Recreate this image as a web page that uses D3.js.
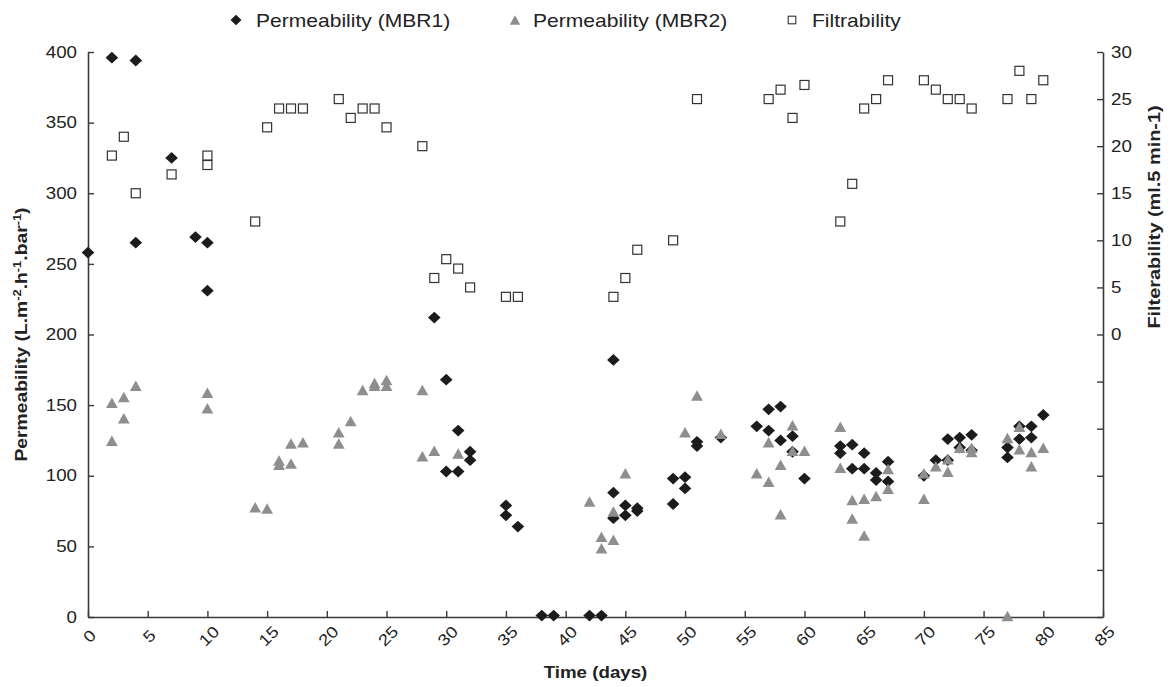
<!DOCTYPE html>
<html>
<head>
<meta charset="utf-8">
<script src="https://cdn.jsdelivr.net/npm/d3@7/dist/d3.min.js"></script>
<style>
  html, body { margin: 0; padding: 0; background: #fff; }
  svg { display: block; font-family: "Liberation Sans", Arial, sans-serif; }
</style>
</head>
<body>
<svg id="chart" width="1170" height="687"></svg>
<script>
// Permeability of MBR1 as [day, L.m-2.h-1.bar-1]
const mbr1 = [
  [0,258],[2,396],[4,394],[4,265],[7,325],[9,269],[10,265],[10,231],
  [29,212],[30,168],[30,103],[31,103],[31,132],[32,117],[32,111],
  [35,79],[35,72],[36,64],[38,1],[39,1],[42,1],[43,1],
  [44,182],[44,88],[44,70],[45,79],[45,72],[46,77],[46,75],
  [49,98],[49,80],[50,99],[50,91],[51,124],[51,121],[53,127],
  [56,135],[57,147],[57,132],[58,149],[58,125],[59,128],[59,117],[60,98],
  [63,121],[63,116],[64,122],[64,105],[65,116],[65,105],[66,102],[66,97],[67,110],[67,96],
  [70,100],[71,111],[72,126],[72,111],[73,127],[73,120],[74,129],[74,118],
  [77,120],[77,113],[78,135],[78,126],[79,135],[79,127],[80,143]
];

// Permeability of MBR2 as [day, L.m-2.h-1.bar-1]
const mbr2 = [
  [2,151],[2,124],[3,155],[3,140],[4,163],[10,158],[10,147],
  [14,77],[15,76],[16,110],[16,107],[17,122],[17,108],[18,123],
  [21,130],[21,122],[22,138],[23,160],[24,165],[24,163],[25,167],[25,163],
  [28,160],[28,113],[29,117],[31,115],
  [42,81],[43,56],[43,48],[44,74],[44,54],[45,101],
  [50,130],[51,156],[53,129],
  [56,101],[57,123],[57,95],[58,107],[58,72],[59,135],[59,117],[60,117],
  [63,134],[63,105],[64,82],[64,69],[65,83],[65,57],[66,85],[67,104],[67,90],
  [70,101],[70,83],[71,106],[72,111],[72,102],[73,119],[74,119],[74,116],
  [77,126],[77,0],[78,134],[78,118],[79,116],[79,106],[80,119]
];

// Filtrability as [day, ml per 5 min]
const filtrability = [
  [2,19],[3,21],[4,15],[7,17],[10,19],[10,18],[14,12],[15,22],[16,24],[17,24],[18,24],
  [21,25],[22,23],[23,24],[24,24],[25,22],[28,20],[29,6],[30,8],[31,7],[32,5],
  [35,4],[36,4],[44,4],[45,6],[46,9],[49,10],[51,25],
  [57,25],[58,26],[59,23],[60,26.5],[63,12],[64,16],[65,24],[66,25],[67,27],
  [70,27],[71,26],[72,25],[73,25],[74,24],[77,25],[78,28],[79,25],[80,27]
];

const dayTicks = d3.range(0, 86, 5);
const permTicks = d3.range(0, 401, 50);
const filtTicks = d3.range(-30, 31, 5);

const seriesNames = ["Permeability (MBR1)", "Permeability (MBR2)", "Filtrability"];

const svg = d3.select("#chart");
const plotLeft = 88, plotRight = 1103, plotTop = 52, plotBottom = 617;

const x = d3.scaleLinear().domain([0, 85]).range([plotLeft, plotRight]);
const yL = d3.scaleLinear().domain([0, 400]).range([plotBottom, plotTop]);
const yR = d3.scaleLinear().domain([-30, 30]).range([plotBottom, plotTop]);

const axisColor = "#3a3a3a";
const textColor = "#222";
const diamondColor = "#1c1c1c";
const triangleColor = "#8e8e8e";
// the lettering runs wide, so every label is stretched along its reading direction
const stretch = 1.17;

// marker shapes
const diamondPath = (w, h) => `M0,${-h}L${w},0L0,${h}L${-w},0Z`;
const trianglePath = (w, h) => `M0,${-h * 0.6}L${w},${h * 0.4}L${-w},${h * 0.4}Z`;

// axes
function styleAxis(g) {
  g.selectAll("path.domain").attr("stroke", axisColor).attr("stroke-width", 1.6);
  g.selectAll(".tick line").attr("stroke", axisColor).attr("stroke-width", 1.4);
  g.selectAll("text").attr("fill", textColor).attr("font-size", 16)
    .attr("font-family", "Liberation Sans, Arial, sans-serif");
}

const gx = svg.append("g").attr("transform", `translate(0,${plotBottom})`)
  .call(d3.axisBottom(x).tickValues(dayTicks).tickSize(-6).tickSizeOuter(0));
styleAxis(gx);
gx.selectAll(".tick text")
  .attr("x", 0).attr("y", 0).attr("dy", "0.35em")
  .attr("text-anchor", "middle")
  .attr("transform", `translate(1,19) rotate(-45) scale(${stretch},1)`);

const gl = svg.append("g").attr("transform", `translate(${plotLeft},0)`)
  .call(d3.axisLeft(yL).tickValues(permTicks).tickSize(-6).tickSizeOuter(0));
styleAxis(gl);
gl.selectAll(".tick text")
  .attr("x", 0)
  .attr("transform", `translate(-11,0) scale(${stretch},1)`);

const gr = svg.append("g").attr("transform", `translate(${plotRight},0)`)
  .call(d3.axisRight(yR).tickValues(filtTicks).tickSize(-6).tickSizeOuter(0)
    .tickFormat(d => d >= 0 ? d : ""));
styleAxis(gr);
gr.selectAll(".tick text")
  .attr("x", 0)
  .attr("transform", `translate(8,0) scale(${stretch},1)`);

// axis titles
svg.append("text")
  .attr("transform", `translate(${(plotLeft + plotRight) / 2},678) scale(${stretch},1)`)
  .attr("text-anchor", "middle").attr("font-weight", "bold").attr("font-size", 16)
  .attr("fill", textColor).text("Time (days)");

const lt = svg.append("text")
  .attr("transform", `translate(27,${(plotTop + plotBottom) / 2}) rotate(-90) scale(${stretch},1)`)
  .attr("text-anchor", "middle").attr("font-weight", "bold").attr("font-size", 16.5)
  .attr("fill", textColor);
lt.append("tspan").text("Permeability (L.m");
lt.append("tspan").attr("dy", -6).attr("font-size", 11).text("-2");
lt.append("tspan").attr("dy", 6).text(".h");
lt.append("tspan").attr("dy", -6).attr("font-size", 11).text("-1");
lt.append("tspan").attr("dy", 6).text(".bar");
lt.append("tspan").attr("dy", -6).attr("font-size", 11).text("-1");
lt.append("tspan").attr("dy", 6).text(")");

svg.append("text")
  .attr("transform", `translate(1160,217) rotate(-90) scale(${stretch},1)`)
  .attr("text-anchor", "middle").attr("font-weight", "bold").attr("font-size", 17)
  .attr("fill", textColor).text("Filterability (ml.5 min-1)");

// data marks: MBR1, then MBR2, then filtrability on top
const plot = svg.append("g");

plot.selectAll("path.mbr1").data(mbr1).join("path")
  .attr("class", "mbr1")
  .attr("transform", d => `translate(${x(d[0])},${yL(d[1])})`)
  .attr("d", diamondPath(6.3, 5.9))
  .attr("fill", diamondColor);

plot.selectAll("path.mbr2").data(mbr2).join("path")
  .attr("class", "mbr2")
  .attr("transform", d => `translate(${x(d[0])},${yL(d[1])})`)
  .attr("d", trianglePath(5.9, 10.5))
  .attr("fill", triangleColor);

plot.selectAll("rect.filt").data(filtrability).join("rect")
  .attr("class", "filt")
  .attr("x", d => x(d[0]) - 4.5).attr("y", d => yR(d[1]) - 4.5)
  .attr("width", 9).attr("height", 9)
  .attr("fill", "#fff").attr("stroke", "#333").attr("stroke-width", 1.2);

// legend
const legend = svg.append("g").attr("font-size", 18).attr("fill", textColor);
const legendItems = [
  { name: seriesNames[0], mx: 236, tx: 256 },
  { name: seriesNames[1], mx: 515, tx: 533 },
  { name: seriesNames[2], mx: 792, tx: 812 }
];
legend.append("path").attr("transform", `translate(${legendItems[0].mx},20)`)
  .attr("d", diamondPath(5.5, 5.3)).attr("fill", diamondColor);
legend.append("path").attr("transform", `translate(${legendItems[1].mx},21)`)
  .attr("d", trianglePath(5.3, 9.5)).attr("fill", triangleColor);
legend.append("rect").attr("x", legendItems[2].mx - 3.8).attr("y", 16.2)
  .attr("width", 7.6).attr("height", 7.6)
  .attr("fill", "#fff").attr("stroke", "#333").attr("stroke-width", 1.1);
legend.selectAll("text").data(legendItems).join("text")
  .attr("transform", d => `translate(${d.tx},27) scale(${stretch},1)`)
  .text(d => d.name);
</script>
</body>
</html>
